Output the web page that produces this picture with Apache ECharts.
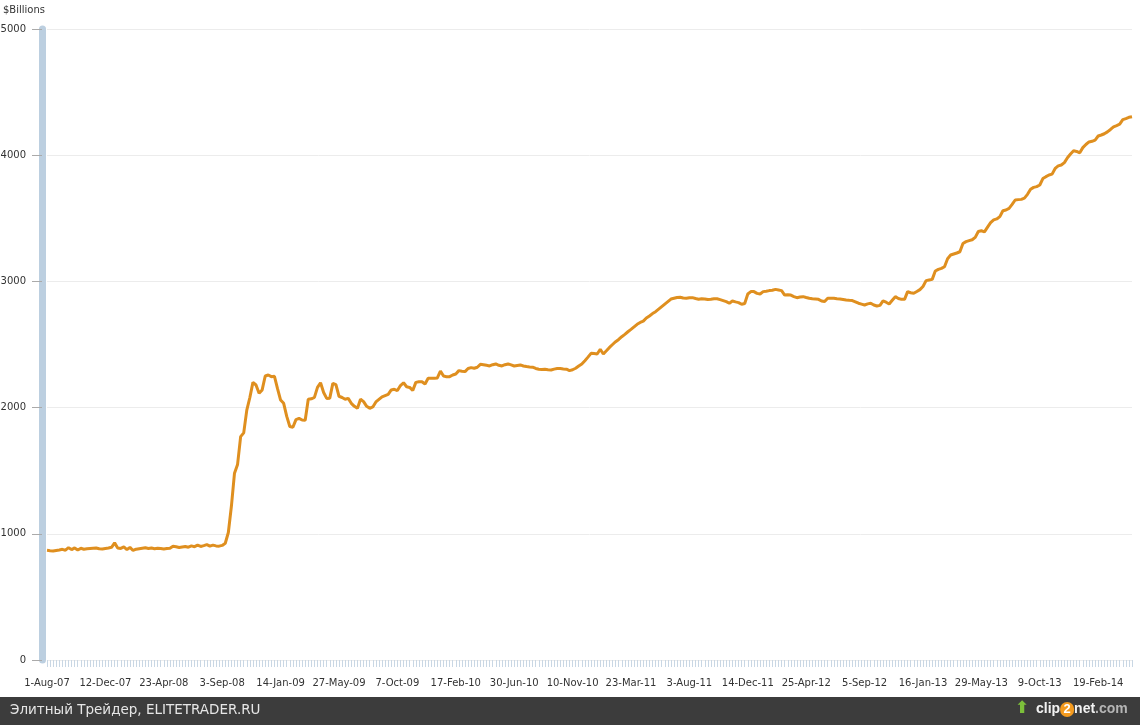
<!DOCTYPE html>
<html>
<head>
<meta charset="utf-8">
<script src="https://cdn.jsdelivr.net/npm/echarts@6/dist/echarts.min.js"></script>
<style>
  html, body { margin: 0; padding: 0; background: #fff; }
  #main { width: 1140px; height: 725px; }
</style>
</head>
<body>
<div id="main"></div>
<script>
// weekly total assets, $ billions (Wednesdays from 1-Aug-07)
var v2007 = [869, 866, 864, 868, 872, 877, 870, 890, 875, 888, 872, 885, 878, 882, 884, 886, 888, 882, 880, 884, 887, 893];
var v2008 = [928, 888, 884, 896, 875, 892, 868, 878, 882, 886,
  890, 884, 888, 882, 886, 884, 880, 884, 886, 902,
  898, 892, 896, 900, 894, 904, 898, 910, 900, 906,
  914, 902, 910, 904, 902, 908, 925, 1010, 1220, 1480,
  1550, 1770, 1800, 1980, 2080, 2200, 2179, 2113, 2140, 2250,
  2258, 2245, 2248];
var v2009 = [2150, 2060, 2034, 1930, 1850, 1844, 1905, 1915, 1902, 1900,
  2066, 2070, 2081, 2160, 2197, 2120, 2073, 2075, 2192, 2182,
  2090, 2080, 2066, 2073, 2034, 2010, 1994, 2066, 2047, 2010,
  1994, 2005, 2045, 2065, 2085, 2095, 2105, 2140, 2145, 2135,
  2175, 2197, 2165, 2160, 2135, 2200, 2205, 2205, 2187, 2232,
  2232, 2232];
var v2010 = [2235, 2290, 2250, 2245, 2245, 2258, 2266, 2293, 2288, 2285,
  2310, 2317, 2312, 2320, 2343, 2340, 2335, 2330, 2340, 2346,
  2335, 2330, 2340, 2346, 2338, 2330, 2334, 2338, 2330, 2325,
  2322, 2320, 2310, 2304, 2302, 2304, 2300, 2298, 2305, 2309,
  2309, 2306, 2304, 2293, 2300, 2312, 2330, 2346, 2372, 2400,
  2430, 2428];
var v2011 = [2425, 2462, 2425, 2450, 2477, 2500, 2522, 2540, 2562, 2580,
  2601, 2620, 2640, 2660, 2675, 2685, 2710, 2726, 2745, 2760,
  2780, 2800, 2820, 2840, 2860, 2866, 2872, 2874, 2868, 2866,
  2870, 2871, 2864, 2858, 2862, 2861, 2856, 2858, 2862, 2863,
  2856, 2848, 2840, 2827, 2845, 2838, 2832, 2819, 2825, 2900,
  2919, 2919];
var v2012 = [2905, 2900, 2919, 2922, 2927, 2930, 2937, 2932, 2927, 2892,
  2895, 2892, 2880, 2871, 2876, 2879, 2872, 2866, 2862, 2860,
  2858, 2845, 2840, 2866, 2866, 2866, 2862, 2861, 2857, 2853,
  2850, 2848, 2838, 2827, 2820, 2813, 2822, 2827, 2813, 2805,
  2810, 2845, 2835, 2821, 2850, 2879, 2865, 2858, 2858, 2919,
  2910, 2906];
var v2013 = [2920, 2935, 2960, 3006, 3011, 3016, 3082, 3095, 3103, 3116,
  3180, 3209, 3217, 3225, 3235, 3300, 3315, 3323, 3330, 3349,
  3395, 3401, 3393, 3430, 3465, 3487, 3495, 3513, 3560, 3566,
  3579, 3610, 3645, 3648, 3650, 3660, 3690, 3730, 3745, 3751,
  3764, 3815, 3830, 3843, 3850, 3895, 3915, 3922, 3941, 3980,
  4009, 4035];
var v2014 = [4030, 4019, 4060, 4085, 4105, 4110, 4120, 4152, 4160, 4170,
  4185, 4204, 4225, 4235, 4246, 4282, 4290, 4300, 4305];

var values = [].concat(v2007, v2008, v2009, v2010, v2011, v2012, v2013, v2014);

// week labels, e.g. "1-Aug-07"
var monthNames = ['Jan', 'Feb', 'Mar', 'Apr', 'May', 'Jun', 'Jul', 'Aug', 'Sep', 'Oct', 'Nov', 'Dec'];
var firstWeek = Date.UTC(2007, 7, 1);
var weeks = values.map(function (v, i) {
  var d = new Date(firstWeek + i * 7 * 86400000);
  var yy = String(d.getUTCFullYear()).slice(2);
  return d.getUTCDate() + '-' + monthNames[d.getUTCMonth()] + '-' + yy;
});

var labelFont = 'DejaVu Sans, Verdana, sans-serif';

var myChart = echarts.init(document.getElementById('main'));
myChart.setOption({
  animation: false,
  grid: {
    left: 47,
    right: 8,
    top: 29,
    bottom: 65,
    containLabel: false,
    outerBoundsMode: 'none'
  },
  xAxis: {
    type: 'category',
    boundaryGap: false,
    data: weeks,
    axisLine: { show: false },
    axisTick: {
      show: true,
      interval: 0,
      length: 7,
      lineStyle: { color: '#c9d7e4', width: 1 }
    },
    axisLabel: {
      interval: 18,
      margin: 18,
      color: '#333',
      fontSize: 10,
      fontFamily: labelFont
    },
    splitLine: { show: false }
  },
  yAxis: {
    type: 'value',
    min: 0,
    max: 5000,
    interval: 1000,
    offset: 5,
    axisLine: {
      show: true,
      lineStyle: { color: '#bccfe0', width: 7 }
    },
    axisTick: {
      show: true,
      length: 10,
      lineStyle: { color: '#aaa' }
    },
    axisLabel: {
      margin: 16,
      color: '#333',
      fontSize: 10,
      fontFamily: labelFont,
      formatter: function (v) { return String(v); }
    },
    splitLine: {
      lineStyle: { color: '#ececec' }
    }
  },
  series: [{
    type: 'line',
    data: values,
    showSymbol: false,
    lineStyle: { color: '#df8f1f', width: 3 },
    itemStyle: { color: '#df8f1f' }
  }],
  graphic: [
    {
      type: 'text',
      left: 3,
      top: 5,
      style: {
        text: '$Billions',
        fill: '#333',
        font: '10px ' + labelFont
      }
    },
    {
      type: 'rect',
      left: 0,
      top: 697,
      shape: { width: 1140, height: 28 },
      style: { fill: '#3c3c3c' }
    },
    {
      type: 'text',
      left: 10,
      top: 703,
      style: {
        text: 'Элитный Трейдер, ELITETRADER.RU',
        fill: '#e6e6e6',
        font: '13.5px ' + labelFont
      }
    },
    {
      type: 'text',
      left: 1015,
      top: 700,
      style: {
        text: '⬆',
        fill: '#7cbf3a',
        font: 'bold 17px DejaVu Sans'
      }
    },
    {
      type: 'text',
      left: 1036,
      top: 702,
      style: {
        text: '{w|clip}{o|2}{w|net}{g|.com}',
        rich: {
          w: { fill: '#f2f2f2', font: 'bold 14px Arial, Liberation Sans, sans-serif' },
          o: { fill: '#fff', font: 'bold 13px Arial, Liberation Sans, sans-serif', backgroundColor: '#f39a1e', borderRadius: 8, width: 14, height: 15, align: 'center' },
          g: { fill: '#b5b5b5', font: 'bold 14px Arial, Liberation Sans, sans-serif' }
        }
      }
    }
  ]
});
window.addEventListener('resize', function () {
  myChart.resize();
});
</script>
</body>
</html>
